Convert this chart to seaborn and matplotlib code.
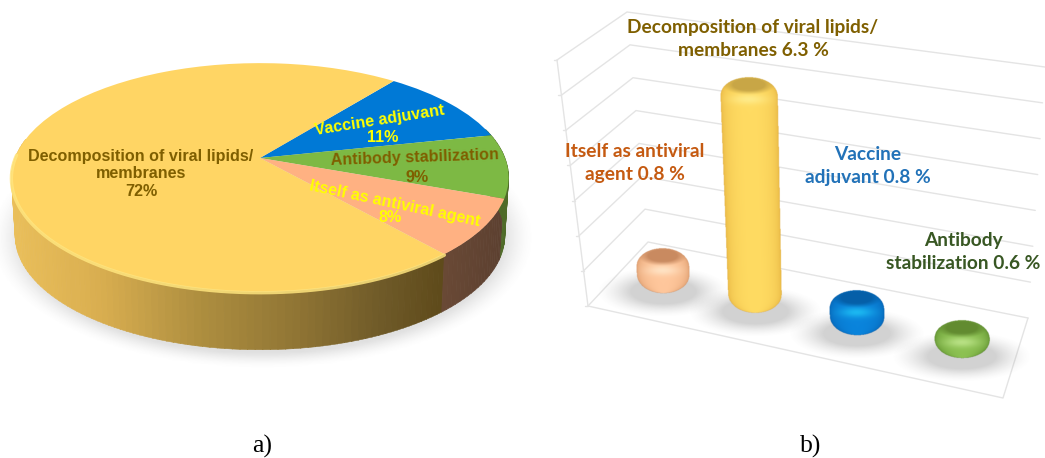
import numpy as np
import matplotlib
matplotlib.use("Agg")
import matplotlib.pyplot as plt
from matplotlib.collections import PolyCollection
from matplotlib.colors import to_rgb
from matplotlib.transforms import Transform
import pandas as pd
import seaborn as sns

# Share of publications per application (pie)
pie_labels = ["Vaccine adjuvant", "Antibody stabilization",
              "Itself as antiviral agent", "Decomposition of viral lipids/membranes"]
pie_values = [11, 9, 8, 72]
pie_colors = ["#0079D6", "#7DB944", "#FFB182", "#FFD564"]

# Measured values per application (cylinders)
bar_labels = ["Itself as antiviral agent", "Decomposition of viral lipids/membranes",
              "Vaccine adjuvant", "Antibody stabilization"]
bar_values = [0.8, 6.3, 0.8, 0.6]
bar_shades = [  # light, dark, cap, highlight
    ("#FFC79C", "#D08C5C", "#C98A60", "#FFE8CC"),
    ("#FFDB62", "#DFA938", "#C8A646", "#FFEE92"),
    ("#0A84DC", "#0558A5", "#055FA8", "#20C4F6"),
    ("#8CC152", "#4F7E22", "#628B30", "#C2E890"),
]
wall_levels = np.arange(8)

W, H = 1045, 458
sns.set_theme(style="white")
fig = plt.figure(figsize=(W / 100, H / 100), dpi=100, facecolor="white")
ov = fig.add_axes([0, 0, 1, 1], zorder=0)

# ---- pie: unit circle seen in perspective ----
PCX, PCY, PSX, PSY, PA = 260.0, 158.0, 245.0, 111.0, 0.17
DEPTH, SHRINK = 58.0, 0.985


class PiePerspective(Transform):
    input_dims = output_dims = 2
    is_affine = False

    def transform_non_affine(self, values):
        v = np.asarray(values, float)
        d = 1 + PA * v[:, 1]
        return np.column_stack([PCX + PSX * v[:, 0] / d, PCY - PSY * v[:, 1] / d])


persp = PiePerspective()


def rim(theta_deg):
    t = np.radians(theta_deg)
    return persp.transform_non_affine(np.column_stack([np.cos(t), np.sin(t)]))


def lower(pts):
    return np.column_stack([PCX + (pts[:, 0] - PCX) * SHRINK, pts[:, 1] + DEPTH])


START = 51.8
wedges, _ = ov.pie(pie_values, colors=pie_colors, startangle=START, counterclock=False,
                   wedgeprops={"linewidth": 0, "zorder": 3})
for w in wedges:
    w.set_transform(persp + ov.transData)

# slice boundaries going clockwise from the start angle
edges = START - np.cumsum([0] + pie_values) * 3.6

# rim of the disc, shaded left to right
stops_x = [12, 100, 200, 300, 380, 445]
stops_c = np.array([to_rgb(c) for c in
                    ["#EABF5A", "#D9AE50", "#AE8E3F", "#8F7434", "#705B29", "#5E4A1A"]])
polys, cols = [], []
for a in np.arange(170.0, 375.0, 1.5):
    top = rim(np.array([a, a + 1.6]))
    polys.append(np.vstack([top, lower(top)[::-1]]))
    mid = (a + 0.8) % 360
    mid = mid - 360 if mid > 180 else mid
    xm = top[:, 0].mean()
    if edges[3] <= mid <= edges[2]:
        f = np.clip((xm - 440) / 65, 0, 1)
        cols.append(tuple(np.array(to_rgb("#6B4A36")) * (1 - f) + np.array(to_rgb("#5C4030")) * f))
    elif edges[2] < mid < 170:
        cols.append(to_rgb("#4F6B28"))
    else:
        cols.append(tuple(np.interp(xm, stops_x, stops_c[:, i]) for i in range(3)))
ov.add_collection(PolyCollection(polys, facecolors=cols, edgecolors=cols, linewidths=0.4, zorder=2))

# bright bevel along the front edge of the yellow slice
arc = rim(np.linspace(178, 360 + edges[3], 200))
ov.plot(arc[:, 0], arc[:, 1] + 1, color="#FFE57E", lw=2.4, alpha=0.85, zorder=3, solid_capstyle="round")


def soft_ellipse(cx, cy, rx, ry, level, spread=0.35):
    xs = np.linspace(cx - rx * 1.6, cx + rx * 1.6, 200)
    ys = np.linspace(cy - ry * 1.6, cy + ry * 1.6, 120)
    X, Y = np.meshgrid(xs, ys)
    d = np.sqrt(((X - cx) / rx) ** 2 + ((Y - cy) / ry) ** 2)
    alpha = np.clip((1 + spread - d) / (2 * spread), 0, 1) ** 1.5 * level
    rgba = np.zeros(X.shape + (4,))
    rgba[..., :3] = 0.45
    rgba[..., 3] = alpha
    ov.imshow(rgba, extent=(xs[0], xs[-1], ys[-1], ys[0]), aspect="auto", zorder=1, interpolation="bilinear")


soft_ellipse(PCX + 2, 238, 257, 124, 0.22, spread=0.06)

# ---- back walls and floor of the cylinder chart ----
left0, left7 = np.array([588.0, 306.0]), np.array([557.0, 60.0])
back0, back7 = np.array([648.0, 242.0]), np.array([627.0, 12.0])
right0, right7 = np.array([1028.0, 318.0]), np.array([1045.0, 67.0])
front_left, front_right = left0, np.array([1003.0, 398.0])
grid_c = "#E4E4E4"
for k in wall_levels:
    f = k / wall_levels[-1]
    pts = np.array([left0 + (left7 - left0) * f, back0 + (back7 - back0) * f, right0 + (right7 - right0) * f])
    ov.plot(pts[:, 0], pts[:, 1], color=grid_c, lw=1, zorder=0.5)
    ov.plot([pts[0, 0] - 3, pts[0, 0]], [pts[0, 1], pts[0, 1]], color=grid_c, lw=1, zorder=0.5)
ov.plot([left0[0], left7[0]], [left0[1], left7[1]], color=grid_c, lw=1, zorder=0.5)
ov.plot([front_left[0], front_right[0], right0[0]], [front_left[1], front_right[1], right0[1]],
        color=grid_c, lw=1, zorder=0.5)

# ---- cylinders: seaborn bars supply position and height ----
BAR_X0, PX_PER_UNIT, BASE_Y = 613.0, 34.7, 284.5
ax2 = fig.add_axes([BAR_X0 / W, 1 - BASE_Y / H, 400 / W, 7 * PX_PER_UNIT / H], zorder=1)
ax2.patch.set_alpha(0)
df = pd.DataFrame({"use": bar_labels, "value": bar_values})
sns.barplot(data=df, x="use", y="value", hue="use", palette=[s[0] for s in bar_shades],
            width=0.52, legend=False, ax=ax2, saturation=1)
ax2.set(xlim=(-0.5, 3.5), ylim=(0, 7))
ax2.set_axis_off()

top_ax = fig.add_axes([0, 0, 1, 1], zorder=2)
top_ax.patch.set_alpha(0)
FLOOR_SLOPE = 0.217
perspective_dx = [0, -8, -6, -1]
fig.canvas.draw()
to_fig = ax2.transData


def to_px(x, v):
    dx, dy = to_fig.transform((x, v))
    return dx, H - dy


def smooth(a, lo, hi):
    return np.clip((a - lo) / (hi - lo), 0, 1)


def draw_cylinder(bx, by, tx, ty, wb, wt, e, shades):
    light, dark, cap, hi = [np.array(to_rgb(c)) for c in shades]
    x0, x1 = min(bx, tx) - wt / 2 - 3, max(bx, tx) + wt / 2 + 3
    y0, y1 = ty - e - 3, by + e + 3
    xs = np.arange(x0, x1, 0.4)
    ys = np.arange(y0, y1, 0.4)
    X, Y = np.meshgrid(xs, ys)
    t = np.clip((by - Y) / max(by - ty, 1), 0, 1)
    cx = bx + (tx - bx) * t
    hw = (wb + (wt - wb) * t) / 2
    # bevelled ends start well inside the body, giving rounded shoulders
    inset = 11.0
    vb = np.clip((Y - (by - inset)) / (e + inset), 0, 1.2)
    vt = np.clip(((ty + inset) - Y) / (e + inset), 0, 1.2)
    v = np.maximum(vb, vt)
    chord = np.clip(1 - v ** 2.2, 1e-4, 1) ** 0.5
    u = (X - cx) / (hw * chord)
    inside = (np.abs(u) < 1) & (v < 1)
    s = np.sqrt(np.clip(1 - u ** 2, 0, 1))
    rgb = dark + (light - dark) * (s ** 0.6)[..., None]
    # darker flat disc on top, bright reflection just under it
    d = np.sqrt(((X - tx) / (0.78 * wt / 2)) ** 2 + ((Y - ty + 1) / (1.0 * e)) ** 2)
    cf = (1 - smooth(d, 0.7, 1.2))[..., None]
    rgb = rgb * (1 - cf) + cap * cf
    hf = np.exp(-((X - tx) / (0.3 * wt)) ** 2 - ((Y - (ty + e + 5)) / 5.0) ** 2)[..., None]
    rgb = rgb * (1 - 0.8 * hf) + hi * 0.8 * hf
    rgba = np.dstack([rgb, inside.astype(float)])
    top_ax.imshow(rgba, extent=(x0, xs[-1], ys[-1], y0), aspect="auto", interpolation="bilinear", zorder=2)


for i, (bar, shades) in enumerate(zip(ax2.patches, bar_shades)):
    c = bar.get_x() + bar.get_width() / 2
    val = bar.get_height()
    px, py0 = to_px(c, 0)
    _, py1 = to_px(c, val)
    px += perspective_dx[i]
    shift = FLOOR_SLOPE * (px - 663)
    by, ty = py0 + shift, py1 + shift
    tx = px - 1.0 * val
    wb = bar.get_width() * 100 + (px - 663) * 0.01
    wt = wb + 0.65 * val
    e = 8.5
    soft_ellipse(px, by + 7, wb * 0.95, 19, 0.32)
    draw_cylinder(px, by, tx, ty, wb, wt, e, shades)
    bar.set_visible(False)

# ---- text ----
sans = "Liberation Sans"
pie_txt = [
    ("Decomposition of viral lipids/\nmembranes\n72%", 141, 174, 0, "#7F5F00"),
    ("Vaccine adjuvant", 380, 120, 9, "#FFFF00"),
    ("11%", 383, 137, 0, "#FFFF00"),
    ("Antibody stabilization", 415, 158, 2, "#7F5F00"),
    ("9%", 417, 177, 0, "#7F5F00"),
    ("Itself as antiviral agent", 395, 204, -12, "#FFFF00"),
    ("8%", 390, 218, 0, "#FFFF00"),
]
for s, x, y, r, c in pie_txt:
    top_ax.text(x, y, s, ha="center", va="center", rotation=r, rotation_mode="anchor",
                color=c, fontsize=11.6, fontweight="bold", family=sans, linespacing=1.25, zorder=6)

bar_txt = [
    ("Decomposition of viral lipids/\nmembranes 6.3 %", 753, 39, "#7F5F00"),
    ("Itself as antiviral\nagent 0.8 %", 635, 163, "#C55A11"),
    ("Vaccine\nadjuvant 0.8 %", 868, 166, "#2272B8"),
    ("Antibody\nstabilization 0.6 %", 963, 252, "#385723"),
]
for s, x, y, c in bar_txt:
    top_ax.text(x, y, s, ha="center", va="center", color=c, fontsize=13.8, fontweight="bold",
                family="Lato", linespacing=1.48, zorder=6)

for s, x in [("a)", 262), ("b)", 811)]:
    top_ax.text(x, 446, s, ha="center", va="center", fontsize=18.5, family="Liberation Serif", color="black")

for a in (ov, top_ax):
    a.set_aspect("auto")
    a.set_xlim(0, W)
    a.set_ylim(H, 0)
    a.set_axis_off()

fig.savefig("out.png", dpi=100, facecolor="white")
